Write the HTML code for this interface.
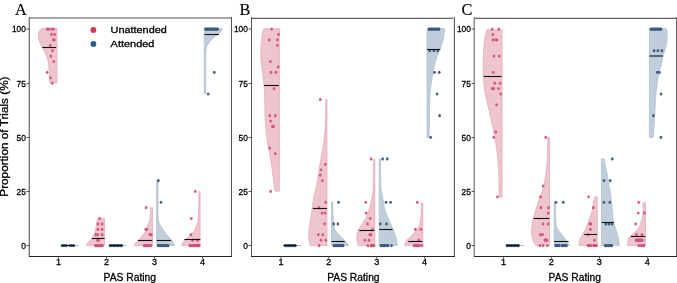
<!DOCTYPE html><html><head><meta charset="utf-8"><style>html,body{margin:0;padding:0;background:#fff;}svg{display:block;}text{font-family:"Liberation Sans",sans-serif;fill:#000;stroke:#000;stroke-width:0.3px;}svg{will-change:transform;}</style></head><body>
<svg width="677" height="283" viewBox="0 0 677 283">
<polygon points="57.0,28.4 41.8,28.4 40.6,29.2 39.7,30.4 39.0,32.0 38.5,34.2 38.4,38.0 39.6,41.8 41.3,45.6 43.4,49.4 45.3,53.2 46.8,57.0 47.8,60.0 48.6,64.0 49.0,68.0 49.2,72.0 49.4,78.0 49.6,83.0 57.0,83.0" fill="#eec4cd" stroke="#e3a9b7" stroke-width="0.7" stroke-linejoin="round"/>
<polygon points="104.6,218.3 98.2,218.3 97.2,220.0 96.9,222.0 96.5,225.0 95.9,228.0 95.1,232.0 93.8,235.0 92.2,238.0 90.5,240.0 88.4,242.0 87.0,244.0 86.4,245.6 104.6,245.6" fill="#eec4cd" stroke="#e3a9b7" stroke-width="0.7" stroke-linejoin="round"/>
<polygon points="152.6,207.6 150.6,207.6 150.4,212.0 150.2,216.0 149.8,220.0 149.3,222.0 147.3,226.0 146.3,229.9 144.7,232.5 142.9,234.9 141.0,237.5 138.9,239.8 137.0,241.5 135.4,242.8 134.1,245.6 152.6,245.6" fill="#eec4cd" stroke="#e3a9b7" stroke-width="0.7" stroke-linejoin="round"/>
<polygon points="156.6,180.6 158.2,180.6 158.1,190.0 158.0,200.0 158.0,212.0 158.1,218.0 158.7,222.0 160.7,226.0 163.1,230.0 167.1,235.0 171.6,240.0 174.0,244.0 174.5,245.6 156.6,245.6" fill="#c0cdda" stroke="#aebfce" stroke-width="0.7" stroke-linejoin="round"/>
<polygon points="200.1,191.5 198.9,191.5 198.9,200.0 198.6,210.0 198.4,215.0 197.9,220.0 196.6,225.0 194.9,230.0 192.5,233.0 190.5,235.0 188.2,237.0 186.0,239.0 184.0,241.0 182.5,243.0 181.5,245.6 200.1,245.6" fill="#eec4cd" stroke="#e3a9b7" stroke-width="0.7" stroke-linejoin="round"/>
<polygon points="204.2,28.4 221.5,28.4 222.8,29.1 220.9,31.0 218.3,34.2 214.5,36.7 210.7,40.5 208.2,43.7 206.6,46.9 205.9,50.7 205.6,60.0 205.6,93.8 204.2,93.8" fill="#c0cdda" stroke="#aebfce" stroke-width="0.7" stroke-linejoin="round"/>
<polygon points="279.4,28.6 263.8,28.6 263.3,29.8 262.6,32.0 262.2,34.8 261.6,40.0 261.1,45.0 260.8,49.7 260.8,55.0 261.0,61.5 261.6,66.0 262.4,72.0 263.2,78.0 264.0,85.0 264.6,94.0 264.8,105.0 265.0,115.0 265.2,120.0 265.8,128.0 266.7,137.0 267.9,145.0 269.6,154.0 271.1,162.0 272.2,170.0 273.5,180.0 274.7,190.0 275.0,191.2 279.4,191.2" fill="#eec4cd" stroke="#e3a9b7" stroke-width="0.7" stroke-linejoin="round"/>
<polygon points="327.0,99.5 325.7,99.5 325.6,110.0 325.4,120.0 325.0,130.0 324.0,140.0 322.5,150.0 320.3,162.0 318.2,175.0 316.3,187.0 314.1,195.0 312.6,205.0 311.2,215.0 310.0,222.0 308.9,230.0 308.6,237.0 309.2,241.0 310.3,245.6 327.0,245.6" fill="#eec4cd" stroke="#e3a9b7" stroke-width="0.7" stroke-linejoin="round"/>
<polygon points="331.5,202.3 332.8,202.3 332.9,210.0 333.1,218.0 333.6,225.0 335.0,230.0 339.0,235.0 344.0,240.0 346.8,243.0 348.5,245.6 331.5,245.6" fill="#c0cdda" stroke="#aebfce" stroke-width="0.7" stroke-linejoin="round"/>
<polygon points="374.8,159.2 373.6,159.2 373.6,170.0 373.5,180.0 373.2,190.0 372.2,196.0 371.0,202.0 369.5,208.0 367.4,215.0 364.5,220.0 361.5,225.0 358.0,230.0 357.0,235.0 356.8,240.0 357.5,243.0 358.3,245.6 374.8,245.6" fill="#eec4cd" stroke="#e3a9b7" stroke-width="0.7" stroke-linejoin="round"/>
<polygon points="379.2,159.2 380.6,159.2 380.6,170.0 380.7,180.0 381.2,190.0 382.3,196.0 383.4,202.0 384.5,208.0 386.9,215.0 389.1,220.0 391.2,225.0 393.3,230.0 395.2,235.0 396.6,240.0 397.2,245.6 379.2,245.6" fill="#c0cdda" stroke="#aebfce" stroke-width="0.7" stroke-linejoin="round"/>
<polygon points="422.8,202.8 421.2,202.8 421.2,210.0 420.8,218.0 419.5,225.0 416.5,230.0 412.4,234.8 409.0,238.0 406.8,240.0 405.2,243.0 404.4,245.6 422.8,245.6" fill="#eec4cd" stroke="#e3a9b7" stroke-width="0.7" stroke-linejoin="round"/>
<polygon points="427.0,28.6 444.0,28.6 444.8,29.3 444.7,31.0 443.9,35.0 443.3,40.0 441.5,45.0 439.8,50.0 437.5,55.0 436.0,60.0 434.6,65.0 433.4,70.0 431.8,80.0 430.4,90.0 429.8,100.0 429.6,120.0 429.3,130.0 429.0,137.4 427.0,137.4" fill="#c0cdda" stroke="#aebfce" stroke-width="0.7" stroke-linejoin="round"/>
<polygon points="502.1,29.7 486.8,29.7 486.3,32.0 485.5,36.0 484.6,40.0 484.0,45.0 483.6,50.0 483.3,60.0 483.2,70.0 483.5,80.0 484.3,88.0 485.6,95.0 486.5,100.0 488.5,108.0 490.1,115.0 492.3,125.0 494.4,135.0 496.0,145.0 497.5,155.0 498.6,170.0 499.1,190.0 499.3,197.1 502.1,197.1" fill="#eec4cd" stroke="#e3a9b7" stroke-width="0.7" stroke-linejoin="round"/>
<polygon points="549.5,137.2 547.8,137.2 547.6,150.0 547.2,160.0 546.8,166.0 546.0,172.0 544.9,180.0 542.6,190.0 538.9,200.0 536.5,207.0 534.2,215.0 532.6,222.0 531.4,230.0 531.8,236.0 532.9,240.0 534.3,243.0 535.8,245.6 549.5,245.6" fill="#eec4cd" stroke="#e3a9b7" stroke-width="0.7" stroke-linejoin="round"/>
<polygon points="554.2,202.1 555.5,202.1 555.5,210.0 555.6,218.0 555.8,222.0 556.1,225.0 557.2,228.0 558.3,230.0 562.2,235.0 566.0,240.0 568.0,243.0 569.5,245.6 554.2,245.6" fill="#c0cdda" stroke="#aebfce" stroke-width="0.7" stroke-linejoin="round"/>
<polygon points="597.3,196.8 594.8,196.8 593.6,202.0 592.3,210.0 590.8,215.0 588.8,220.0 587.3,225.0 585.0,230.0 582.4,234.8 580.8,237.5 579.7,239.8 579.0,242.5 579.0,245.6 597.3,245.6" fill="#eec4cd" stroke="#e3a9b7" stroke-width="0.7" stroke-linejoin="round"/>
<polygon points="601.4,158.8 604.2,158.8 605.2,165.0 607.4,175.0 609.0,185.0 610.8,195.0 611.9,205.0 612.7,215.0 613.5,222.0 614.6,225.0 616.0,230.0 617.6,235.0 618.7,240.0 619.5,245.6 601.4,245.6" fill="#c0cdda" stroke="#aebfce" stroke-width="0.7" stroke-linejoin="round"/>
<polygon points="645.5,202.8 643.0,202.8 643.0,210.0 642.8,215.0 641.8,220.0 640.3,225.0 638.0,229.0 635.0,232.0 631.5,235.0 628.7,238.0 627.8,241.0 627.6,245.6 645.5,245.6" fill="#eec4cd" stroke="#e3a9b7" stroke-width="0.7" stroke-linejoin="round"/>
<polygon points="649.4,28.5 665.8,28.5 666.7,29.3 667.1,31.0 667.2,35.0 667.1,40.0 666.2,45.0 665.0,50.0 663.1,56.0 662.0,61.0 661.0,66.0 659.3,72.0 657.8,80.0 656.4,90.0 655.5,100.0 654.8,115.0 653.8,130.0 653.1,137.4 649.4,137.4" fill="#c0cdda" stroke="#aebfce" stroke-width="0.7" stroke-linejoin="round"/>
<line x1="60.5" y1="245.6" x2="79" y2="245.6" stroke="#a9b6c4" stroke-width="1"/>
<line x1="108.5" y1="245.6" x2="126.6" y2="245.6" stroke="#a9b6c4" stroke-width="1"/>
<line x1="283" y1="245.6" x2="301.5" y2="245.6" stroke="#a9b6c4" stroke-width="1"/>
<line x1="505.5" y1="245.6" x2="524" y2="245.6" stroke="#a9b6c4" stroke-width="1"/>
<ellipse cx="47.2" cy="29.05" rx="1.35" ry="1.6" fill="#d2507a" fill-opacity="0.92"/>
<ellipse cx="48.9" cy="29.05" rx="1.35" ry="1.6" fill="#d2507a" fill-opacity="0.92"/>
<ellipse cx="51.7" cy="29.05" rx="1.35" ry="1.6" fill="#d2507a" fill-opacity="0.92"/>
<ellipse cx="53.5" cy="29.05" rx="1.35" ry="1.6" fill="#d2507a" fill-opacity="0.92"/>
<ellipse cx="51.5" cy="34.46" rx="1.35" ry="1.6" fill="#d2507a" fill-opacity="0.92"/>
<ellipse cx="54.7" cy="34.46" rx="1.35" ry="1.6" fill="#d2507a" fill-opacity="0.92"/>
<ellipse cx="53.3" cy="39.87" rx="1.35" ry="1.6" fill="#d2507a" fill-opacity="0.92"/>
<ellipse cx="54.4" cy="39.87" rx="1.35" ry="1.6" fill="#d2507a" fill-opacity="0.92"/>
<ellipse cx="50.3" cy="45.29" rx="1.35" ry="1.6" fill="#d2507a" fill-opacity="0.92"/>
<ellipse cx="52.4" cy="50.70" rx="1.35" ry="1.6" fill="#d2507a" fill-opacity="0.92"/>
<ellipse cx="50.9" cy="56.11" rx="1.35" ry="1.6" fill="#d2507a" fill-opacity="0.92"/>
<ellipse cx="53.8" cy="61.52" rx="1.35" ry="1.6" fill="#d2507a" fill-opacity="0.92"/>
<ellipse cx="47.1" cy="72.35" rx="1.35" ry="1.6" fill="#d2507a" fill-opacity="0.92"/>
<ellipse cx="50.4" cy="77.76" rx="1.35" ry="1.6" fill="#d2507a" fill-opacity="0.92"/>
<ellipse cx="52.3" cy="83.17" rx="1.35" ry="1.6" fill="#d2507a" fill-opacity="0.92"/>
<ellipse cx="99.5" cy="218.49" rx="1.35" ry="1.6" fill="#d2507a" fill-opacity="0.92"/>
<ellipse cx="97.9" cy="223.90" rx="1.35" ry="1.6" fill="#d2507a" fill-opacity="0.92"/>
<ellipse cx="102.1" cy="223.90" rx="1.35" ry="1.6" fill="#d2507a" fill-opacity="0.92"/>
<ellipse cx="97.9" cy="229.31" rx="1.35" ry="1.6" fill="#d2507a" fill-opacity="0.92"/>
<ellipse cx="102.1" cy="229.31" rx="1.35" ry="1.6" fill="#d2507a" fill-opacity="0.92"/>
<ellipse cx="95.8" cy="234.72" rx="1.35" ry="1.6" fill="#d2507a" fill-opacity="0.92"/>
<ellipse cx="97.6" cy="234.72" rx="1.35" ry="1.6" fill="#d2507a" fill-opacity="0.92"/>
<ellipse cx="102.1" cy="234.72" rx="1.35" ry="1.6" fill="#d2507a" fill-opacity="0.92"/>
<ellipse cx="97.6" cy="240.14" rx="1.35" ry="1.6" fill="#d2507a" fill-opacity="0.92"/>
<ellipse cx="98.6" cy="240.14" rx="1.35" ry="1.6" fill="#d2507a" fill-opacity="0.92"/>
<ellipse cx="95.5" cy="245.55" rx="1.35" ry="1.6" fill="#d2507a" fill-opacity="0.92"/>
<ellipse cx="97.6" cy="245.55" rx="1.35" ry="1.6" fill="#d2507a" fill-opacity="0.92"/>
<ellipse cx="99.6" cy="245.55" rx="1.35" ry="1.6" fill="#d2507a" fill-opacity="0.92"/>
<ellipse cx="101.6" cy="245.55" rx="1.35" ry="1.6" fill="#d2507a" fill-opacity="0.92"/>
<ellipse cx="146.1" cy="207.66" rx="1.35" ry="1.6" fill="#d2507a" fill-opacity="0.92"/>
<ellipse cx="145.8" cy="229.31" rx="1.35" ry="1.6" fill="#d2507a" fill-opacity="0.92"/>
<ellipse cx="146.8" cy="229.31" rx="1.35" ry="1.6" fill="#d2507a" fill-opacity="0.92"/>
<ellipse cx="150" cy="234.72" rx="1.35" ry="1.6" fill="#d2507a" fill-opacity="0.92"/>
<ellipse cx="151.3" cy="234.72" rx="1.35" ry="1.6" fill="#d2507a" fill-opacity="0.92"/>
<ellipse cx="144.5" cy="245.55" rx="1.35" ry="1.6" fill="#d2507a" fill-opacity="0.92"/>
<ellipse cx="146.5" cy="245.55" rx="1.35" ry="1.6" fill="#d2507a" fill-opacity="0.92"/>
<ellipse cx="148.5" cy="245.55" rx="1.35" ry="1.6" fill="#d2507a" fill-opacity="0.92"/>
<ellipse cx="150.5" cy="245.55" rx="1.35" ry="1.6" fill="#d2507a" fill-opacity="0.92"/>
<ellipse cx="195.3" cy="191.42" rx="1.35" ry="1.6" fill="#d2507a" fill-opacity="0.92"/>
<ellipse cx="191.3" cy="218.49" rx="1.35" ry="1.6" fill="#d2507a" fill-opacity="0.92"/>
<ellipse cx="190.9" cy="234.72" rx="1.35" ry="1.6" fill="#d2507a" fill-opacity="0.92"/>
<ellipse cx="192.6" cy="240.14" rx="1.35" ry="1.6" fill="#d2507a" fill-opacity="0.92"/>
<ellipse cx="197.5" cy="240.14" rx="1.35" ry="1.6" fill="#d2507a" fill-opacity="0.92"/>
<ellipse cx="189.8" cy="245.55" rx="1.35" ry="1.6" fill="#d2507a" fill-opacity="0.92"/>
<ellipse cx="192" cy="245.55" rx="1.35" ry="1.6" fill="#d2507a" fill-opacity="0.92"/>
<ellipse cx="194.5" cy="245.55" rx="1.35" ry="1.6" fill="#d2507a" fill-opacity="0.92"/>
<ellipse cx="197" cy="245.55" rx="1.35" ry="1.6" fill="#d2507a" fill-opacity="0.92"/>
<ellipse cx="199.2" cy="245.55" rx="1.35" ry="1.6" fill="#d2507a" fill-opacity="0.92"/>
<ellipse cx="271.7" cy="29.05" rx="1.35" ry="1.6" fill="#d2507a" fill-opacity="0.92"/>
<ellipse cx="278.5" cy="34.46" rx="1.35" ry="1.6" fill="#d2507a" fill-opacity="0.92"/>
<ellipse cx="269.3" cy="39.87" rx="1.35" ry="1.6" fill="#d2507a" fill-opacity="0.92"/>
<ellipse cx="277.4" cy="39.87" rx="1.35" ry="1.6" fill="#d2507a" fill-opacity="0.92"/>
<ellipse cx="277.4" cy="45.29" rx="1.35" ry="1.6" fill="#d2507a" fill-opacity="0.92"/>
<ellipse cx="270.3" cy="61.52" rx="1.35" ry="1.6" fill="#d2507a" fill-opacity="0.92"/>
<ellipse cx="278.2" cy="66.94" rx="1.35" ry="1.6" fill="#d2507a" fill-opacity="0.92"/>
<ellipse cx="271" cy="72.35" rx="1.35" ry="1.6" fill="#d2507a" fill-opacity="0.92"/>
<ellipse cx="276" cy="72.35" rx="1.35" ry="1.6" fill="#d2507a" fill-opacity="0.92"/>
<ellipse cx="273.9" cy="88.59" rx="1.35" ry="1.6" fill="#d2507a" fill-opacity="0.92"/>
<ellipse cx="269.8" cy="115.65" rx="1.35" ry="1.6" fill="#d2507a" fill-opacity="0.92"/>
<ellipse cx="275.4" cy="115.65" rx="1.35" ry="1.6" fill="#d2507a" fill-opacity="0.92"/>
<ellipse cx="270.6" cy="121.06" rx="1.35" ry="1.6" fill="#d2507a" fill-opacity="0.92"/>
<ellipse cx="272.4" cy="126.47" rx="1.35" ry="1.6" fill="#d2507a" fill-opacity="0.92"/>
<ellipse cx="273.6" cy="126.47" rx="1.35" ry="1.6" fill="#d2507a" fill-opacity="0.92"/>
<ellipse cx="269.7" cy="148.12" rx="1.35" ry="1.6" fill="#d2507a" fill-opacity="0.92"/>
<ellipse cx="275.3" cy="153.54" rx="1.35" ry="1.6" fill="#d2507a" fill-opacity="0.92"/>
<ellipse cx="270.6" cy="191.42" rx="1.35" ry="1.6" fill="#d2507a" fill-opacity="0.92"/>
<ellipse cx="320.3" cy="99.41" rx="1.35" ry="1.6" fill="#d2507a" fill-opacity="0.92"/>
<ellipse cx="325.3" cy="164.36" rx="1.35" ry="1.6" fill="#d2507a" fill-opacity="0.92"/>
<ellipse cx="321" cy="169.77" rx="1.35" ry="1.6" fill="#d2507a" fill-opacity="0.92"/>
<ellipse cx="320.3" cy="175.19" rx="1.35" ry="1.6" fill="#d2507a" fill-opacity="0.92"/>
<ellipse cx="322.3" cy="180.60" rx="1.35" ry="1.6" fill="#d2507a" fill-opacity="0.92"/>
<ellipse cx="325.7" cy="202.25" rx="1.35" ry="1.6" fill="#d2507a" fill-opacity="0.92"/>
<ellipse cx="319" cy="207.66" rx="1.35" ry="1.6" fill="#d2507a" fill-opacity="0.92"/>
<ellipse cx="322" cy="213.07" rx="1.35" ry="1.6" fill="#d2507a" fill-opacity="0.92"/>
<ellipse cx="325" cy="213.07" rx="1.35" ry="1.6" fill="#d2507a" fill-opacity="0.92"/>
<ellipse cx="324.5" cy="223.90" rx="1.35" ry="1.6" fill="#d2507a" fill-opacity="0.92"/>
<ellipse cx="318.3" cy="234.72" rx="1.35" ry="1.6" fill="#d2507a" fill-opacity="0.92"/>
<ellipse cx="322.8" cy="234.72" rx="1.35" ry="1.6" fill="#d2507a" fill-opacity="0.92"/>
<ellipse cx="321" cy="240.14" rx="1.35" ry="1.6" fill="#d2507a" fill-opacity="0.92"/>
<ellipse cx="325.8" cy="240.14" rx="1.35" ry="1.6" fill="#d2507a" fill-opacity="0.92"/>
<ellipse cx="319.1" cy="245.55" rx="1.35" ry="1.6" fill="#d2507a" fill-opacity="0.92"/>
<ellipse cx="371.1" cy="158.95" rx="1.35" ry="1.6" fill="#d2507a" fill-opacity="0.92"/>
<ellipse cx="365.8" cy="202.25" rx="1.35" ry="1.6" fill="#d2507a" fill-opacity="0.92"/>
<ellipse cx="366.1" cy="213.07" rx="1.35" ry="1.6" fill="#d2507a" fill-opacity="0.92"/>
<ellipse cx="370.2" cy="218.49" rx="1.35" ry="1.6" fill="#d2507a" fill-opacity="0.92"/>
<ellipse cx="367.5" cy="223.90" rx="1.35" ry="1.6" fill="#d2507a" fill-opacity="0.92"/>
<ellipse cx="372.4" cy="229.31" rx="1.35" ry="1.6" fill="#d2507a" fill-opacity="0.92"/>
<ellipse cx="369.8" cy="234.72" rx="1.35" ry="1.6" fill="#d2507a" fill-opacity="0.92"/>
<ellipse cx="371" cy="234.72" rx="1.35" ry="1.6" fill="#d2507a" fill-opacity="0.92"/>
<ellipse cx="364.9" cy="240.14" rx="1.35" ry="1.6" fill="#d2507a" fill-opacity="0.92"/>
<ellipse cx="369" cy="240.14" rx="1.35" ry="1.6" fill="#d2507a" fill-opacity="0.92"/>
<ellipse cx="367.9" cy="245.55" rx="1.35" ry="1.6" fill="#d2507a" fill-opacity="0.92"/>
<ellipse cx="371" cy="245.55" rx="1.35" ry="1.6" fill="#d2507a" fill-opacity="0.92"/>
<ellipse cx="373.1" cy="245.55" rx="1.35" ry="1.6" fill="#d2507a" fill-opacity="0.92"/>
<ellipse cx="417.3" cy="202.25" rx="1.35" ry="1.6" fill="#d2507a" fill-opacity="0.92"/>
<ellipse cx="415.3" cy="229.31" rx="1.35" ry="1.6" fill="#d2507a" fill-opacity="0.92"/>
<ellipse cx="420.9" cy="229.31" rx="1.35" ry="1.6" fill="#d2507a" fill-opacity="0.92"/>
<ellipse cx="418.8" cy="240.14" rx="1.35" ry="1.6" fill="#d2507a" fill-opacity="0.92"/>
<ellipse cx="414.2" cy="245.55" rx="1.35" ry="1.6" fill="#d2507a" fill-opacity="0.92"/>
<ellipse cx="416.8" cy="245.55" rx="1.35" ry="1.6" fill="#d2507a" fill-opacity="0.92"/>
<ellipse cx="419.4" cy="245.55" rx="1.35" ry="1.6" fill="#d2507a" fill-opacity="0.92"/>
<ellipse cx="422" cy="245.55" rx="1.35" ry="1.6" fill="#d2507a" fill-opacity="0.92"/>
<ellipse cx="492.2" cy="29.05" rx="1.35" ry="1.6" fill="#d2507a" fill-opacity="0.92"/>
<ellipse cx="498.8" cy="29.05" rx="1.35" ry="1.6" fill="#d2507a" fill-opacity="0.92"/>
<ellipse cx="492.9" cy="34.46" rx="1.35" ry="1.6" fill="#d2507a" fill-opacity="0.92"/>
<ellipse cx="492.9" cy="39.87" rx="1.35" ry="1.6" fill="#d2507a" fill-opacity="0.92"/>
<ellipse cx="495.7" cy="39.87" rx="1.35" ry="1.6" fill="#d2507a" fill-opacity="0.92"/>
<ellipse cx="497" cy="39.87" rx="1.35" ry="1.6" fill="#d2507a" fill-opacity="0.92"/>
<ellipse cx="493.9" cy="56.11" rx="1.35" ry="1.6" fill="#d2507a" fill-opacity="0.92"/>
<ellipse cx="499.2" cy="56.11" rx="1.35" ry="1.6" fill="#d2507a" fill-opacity="0.92"/>
<ellipse cx="493.3" cy="72.35" rx="1.35" ry="1.6" fill="#d2507a" fill-opacity="0.92"/>
<ellipse cx="494.8" cy="83.17" rx="1.35" ry="1.6" fill="#d2507a" fill-opacity="0.92"/>
<ellipse cx="500.1" cy="83.17" rx="1.35" ry="1.6" fill="#d2507a" fill-opacity="0.92"/>
<ellipse cx="492.2" cy="88.59" rx="1.35" ry="1.6" fill="#d2507a" fill-opacity="0.92"/>
<ellipse cx="493.7" cy="88.59" rx="1.35" ry="1.6" fill="#d2507a" fill-opacity="0.92"/>
<ellipse cx="498.6" cy="88.59" rx="1.35" ry="1.6" fill="#d2507a" fill-opacity="0.92"/>
<ellipse cx="500.7" cy="94.00" rx="1.35" ry="1.6" fill="#d2507a" fill-opacity="0.92"/>
<ellipse cx="496.5" cy="104.82" rx="1.35" ry="1.6" fill="#d2507a" fill-opacity="0.92"/>
<ellipse cx="495.8" cy="131.89" rx="1.35" ry="1.6" fill="#d2507a" fill-opacity="0.92"/>
<ellipse cx="493.7" cy="137.30" rx="1.35" ry="1.6" fill="#d2507a" fill-opacity="0.92"/>
<ellipse cx="497.5" cy="196.84" rx="1.35" ry="1.6" fill="#d2507a" fill-opacity="0.92"/>
<ellipse cx="545.8" cy="137.30" rx="1.35" ry="1.6" fill="#d2507a" fill-opacity="0.92"/>
<ellipse cx="543.1" cy="186.01" rx="1.35" ry="1.6" fill="#d2507a" fill-opacity="0.92"/>
<ellipse cx="540.5" cy="196.84" rx="1.35" ry="1.6" fill="#d2507a" fill-opacity="0.92"/>
<ellipse cx="540.9" cy="207.66" rx="1.35" ry="1.6" fill="#d2507a" fill-opacity="0.92"/>
<ellipse cx="548.6" cy="207.66" rx="1.35" ry="1.6" fill="#d2507a" fill-opacity="0.92"/>
<ellipse cx="548.1" cy="213.07" rx="1.35" ry="1.6" fill="#d2507a" fill-opacity="0.92"/>
<ellipse cx="543" cy="223.90" rx="1.35" ry="1.6" fill="#d2507a" fill-opacity="0.92"/>
<ellipse cx="548.1" cy="223.90" rx="1.35" ry="1.6" fill="#d2507a" fill-opacity="0.92"/>
<ellipse cx="540.3" cy="234.72" rx="1.35" ry="1.6" fill="#d2507a" fill-opacity="0.92"/>
<ellipse cx="542.5" cy="234.72" rx="1.35" ry="1.6" fill="#d2507a" fill-opacity="0.92"/>
<ellipse cx="545" cy="240.14" rx="1.35" ry="1.6" fill="#d2507a" fill-opacity="0.92"/>
<ellipse cx="547" cy="240.14" rx="1.35" ry="1.6" fill="#d2507a" fill-opacity="0.92"/>
<ellipse cx="540" cy="245.55" rx="1.35" ry="1.6" fill="#d2507a" fill-opacity="0.92"/>
<ellipse cx="543" cy="245.55" rx="1.35" ry="1.6" fill="#d2507a" fill-opacity="0.92"/>
<ellipse cx="547.4" cy="245.55" rx="1.35" ry="1.6" fill="#d2507a" fill-opacity="0.92"/>
<ellipse cx="588.6" cy="196.84" rx="1.35" ry="1.6" fill="#d2507a" fill-opacity="0.92"/>
<ellipse cx="593.3" cy="207.66" rx="1.35" ry="1.6" fill="#d2507a" fill-opacity="0.92"/>
<ellipse cx="589.8" cy="223.90" rx="1.35" ry="1.6" fill="#d2507a" fill-opacity="0.92"/>
<ellipse cx="591" cy="223.90" rx="1.35" ry="1.6" fill="#d2507a" fill-opacity="0.92"/>
<ellipse cx="590.4" cy="229.31" rx="1.35" ry="1.6" fill="#d2507a" fill-opacity="0.92"/>
<ellipse cx="588" cy="234.72" rx="1.35" ry="1.6" fill="#d2507a" fill-opacity="0.92"/>
<ellipse cx="594.5" cy="240.14" rx="1.35" ry="1.6" fill="#d2507a" fill-opacity="0.92"/>
<ellipse cx="588.5" cy="245.55" rx="1.35" ry="1.6" fill="#d2507a" fill-opacity="0.92"/>
<ellipse cx="591" cy="245.55" rx="1.35" ry="1.6" fill="#d2507a" fill-opacity="0.92"/>
<ellipse cx="594" cy="245.55" rx="1.35" ry="1.6" fill="#d2507a" fill-opacity="0.92"/>
<ellipse cx="596.4" cy="245.55" rx="1.35" ry="1.6" fill="#d2507a" fill-opacity="0.92"/>
<ellipse cx="638.8" cy="202.25" rx="1.35" ry="1.6" fill="#d2507a" fill-opacity="0.92"/>
<ellipse cx="638.2" cy="213.07" rx="1.35" ry="1.6" fill="#d2507a" fill-opacity="0.92"/>
<ellipse cx="644.5" cy="213.07" rx="1.35" ry="1.6" fill="#d2507a" fill-opacity="0.92"/>
<ellipse cx="635.6" cy="223.90" rx="1.35" ry="1.6" fill="#d2507a" fill-opacity="0.92"/>
<ellipse cx="636.5" cy="234.72" rx="1.35" ry="1.6" fill="#d2507a" fill-opacity="0.92"/>
<ellipse cx="642" cy="234.72" rx="1.35" ry="1.6" fill="#d2507a" fill-opacity="0.92"/>
<ellipse cx="636.5" cy="240.14" rx="1.35" ry="1.6" fill="#d2507a" fill-opacity="0.92"/>
<ellipse cx="639.3" cy="240.14" rx="1.35" ry="1.6" fill="#d2507a" fill-opacity="0.92"/>
<ellipse cx="642.4" cy="240.14" rx="1.35" ry="1.6" fill="#d2507a" fill-opacity="0.92"/>
<ellipse cx="638.8" cy="245.55" rx="1.35" ry="1.6" fill="#d2507a" fill-opacity="0.92"/>
<ellipse cx="641.3" cy="245.55" rx="1.35" ry="1.6" fill="#d2507a" fill-opacity="0.92"/>
<ellipse cx="643.9" cy="245.55" rx="1.35" ry="1.6" fill="#d2507a" fill-opacity="0.92"/>
<ellipse cx="95.5" cy="245.55" rx="1.35" ry="1.6" fill="#d2507a" fill-opacity="0.92"/>
<ellipse cx="96.9" cy="245.55" rx="1.35" ry="1.6" fill="#d2507a" fill-opacity="0.92"/>
<ellipse cx="98.3" cy="245.55" rx="1.35" ry="1.6" fill="#d2507a" fill-opacity="0.92"/>
<ellipse cx="99.7" cy="245.55" rx="1.35" ry="1.6" fill="#d2507a" fill-opacity="0.92"/>
<ellipse cx="101.1" cy="245.55" rx="1.35" ry="1.6" fill="#d2507a" fill-opacity="0.92"/>
<ellipse cx="102.5" cy="245.55" rx="1.35" ry="1.6" fill="#d2507a" fill-opacity="0.92"/>
<ellipse cx="144.3" cy="245.55" rx="1.35" ry="1.6" fill="#d2507a" fill-opacity="0.92"/>
<ellipse cx="145.925" cy="245.55" rx="1.35" ry="1.6" fill="#d2507a" fill-opacity="0.92"/>
<ellipse cx="147.55" cy="245.55" rx="1.35" ry="1.6" fill="#d2507a" fill-opacity="0.92"/>
<ellipse cx="149.175" cy="245.55" rx="1.35" ry="1.6" fill="#d2507a" fill-opacity="0.92"/>
<ellipse cx="150.8" cy="245.55" rx="1.35" ry="1.6" fill="#d2507a" fill-opacity="0.92"/>
<ellipse cx="190.3" cy="245.55" rx="1.35" ry="1.6" fill="#d2507a" fill-opacity="0.92"/>
<ellipse cx="191.70000000000002" cy="245.55" rx="1.35" ry="1.6" fill="#d2507a" fill-opacity="0.92"/>
<ellipse cx="193.1" cy="245.55" rx="1.35" ry="1.6" fill="#d2507a" fill-opacity="0.92"/>
<ellipse cx="194.5" cy="245.55" rx="1.35" ry="1.6" fill="#d2507a" fill-opacity="0.92"/>
<ellipse cx="195.9" cy="245.55" rx="1.35" ry="1.6" fill="#d2507a" fill-opacity="0.92"/>
<ellipse cx="197.29999999999998" cy="245.55" rx="1.35" ry="1.6" fill="#d2507a" fill-opacity="0.92"/>
<ellipse cx="198.7" cy="245.55" rx="1.35" ry="1.6" fill="#d2507a" fill-opacity="0.92"/>
<ellipse cx="371.6" cy="245.55" rx="1.35" ry="1.6" fill="#d2507a" fill-opacity="0.92"/>
<ellipse cx="372.8" cy="245.55" rx="1.35" ry="1.6" fill="#d2507a" fill-opacity="0.92"/>
<ellipse cx="374.0" cy="245.55" rx="1.35" ry="1.6" fill="#d2507a" fill-opacity="0.92"/>
<ellipse cx="414.2" cy="245.55" rx="1.35" ry="1.6" fill="#d2507a" fill-opacity="0.92"/>
<ellipse cx="415.76666666666665" cy="245.55" rx="1.35" ry="1.6" fill="#d2507a" fill-opacity="0.92"/>
<ellipse cx="417.3333333333333" cy="245.55" rx="1.35" ry="1.6" fill="#d2507a" fill-opacity="0.92"/>
<ellipse cx="418.9" cy="245.55" rx="1.35" ry="1.6" fill="#d2507a" fill-opacity="0.92"/>
<ellipse cx="545.4" cy="240.14" rx="1.35" ry="1.6" fill="#d2507a" fill-opacity="0.92"/>
<ellipse cx="546.5" cy="240.14" rx="1.35" ry="1.6" fill="#d2507a" fill-opacity="0.92"/>
<ellipse cx="587.9" cy="245.55" rx="1.35" ry="1.6" fill="#d2507a" fill-opacity="0.92"/>
<ellipse cx="589.9" cy="245.55" rx="1.35" ry="1.6" fill="#d2507a" fill-opacity="0.92"/>
<ellipse cx="593.6" cy="245.55" rx="1.35" ry="1.6" fill="#d2507a" fill-opacity="0.92"/>
<ellipse cx="594.85" cy="245.55" rx="1.35" ry="1.6" fill="#d2507a" fill-opacity="0.92"/>
<ellipse cx="596.1" cy="245.55" rx="1.35" ry="1.6" fill="#d2507a" fill-opacity="0.92"/>
<ellipse cx="641.5" cy="245.55" rx="1.35" ry="1.6" fill="#d2507a" fill-opacity="0.92"/>
<ellipse cx="643.5" cy="245.55" rx="1.35" ry="1.6" fill="#d2507a" fill-opacity="0.92"/>
<ellipse cx="636.2" cy="240.14" rx="1.35" ry="1.6" fill="#d2507a" fill-opacity="0.92"/>
<ellipse cx="637.575" cy="240.14" rx="1.35" ry="1.6" fill="#d2507a" fill-opacity="0.92"/>
<ellipse cx="638.95" cy="240.14" rx="1.35" ry="1.6" fill="#d2507a" fill-opacity="0.92"/>
<ellipse cx="640.325" cy="240.14" rx="1.35" ry="1.6" fill="#d2507a" fill-opacity="0.92"/>
<ellipse cx="641.7" cy="240.14" rx="1.35" ry="1.6" fill="#d2507a" fill-opacity="0.92"/>
<ellipse cx="110.6" cy="245.55" rx="1.35" ry="1.6" fill="#3b5a7c" fill-opacity="0.95"/>
<ellipse cx="113.9" cy="245.55" rx="1.35" ry="1.6" fill="#3b5a7c" fill-opacity="0.95"/>
<ellipse cx="117.4" cy="245.55" rx="1.35" ry="1.6" fill="#3b5a7c" fill-opacity="0.95"/>
<ellipse cx="121" cy="245.55" rx="1.35" ry="1.6" fill="#3b5a7c" fill-opacity="0.95"/>
<ellipse cx="158.4" cy="180.60" rx="1.35" ry="1.6" fill="#3b5a7c" fill-opacity="0.95"/>
<ellipse cx="161" cy="202.25" rx="1.35" ry="1.6" fill="#3b5a7c" fill-opacity="0.95"/>
<ellipse cx="158.5" cy="245.55" rx="1.35" ry="1.6" fill="#3b5a7c" fill-opacity="0.95"/>
<ellipse cx="161.5" cy="245.55" rx="1.35" ry="1.6" fill="#3b5a7c" fill-opacity="0.95"/>
<ellipse cx="164.5" cy="245.55" rx="1.35" ry="1.6" fill="#3b5a7c" fill-opacity="0.95"/>
<ellipse cx="167.5" cy="245.55" rx="1.35" ry="1.6" fill="#3b5a7c" fill-opacity="0.95"/>
<ellipse cx="205.6" cy="29.05" rx="1.35" ry="1.6" fill="#3b5a7c" fill-opacity="0.95"/>
<ellipse cx="207.5" cy="29.05" rx="1.35" ry="1.6" fill="#3b5a7c" fill-opacity="0.95"/>
<ellipse cx="209.5" cy="29.05" rx="1.35" ry="1.6" fill="#3b5a7c" fill-opacity="0.95"/>
<ellipse cx="211.5" cy="29.05" rx="1.35" ry="1.6" fill="#3b5a7c" fill-opacity="0.95"/>
<ellipse cx="213.5" cy="29.05" rx="1.35" ry="1.6" fill="#3b5a7c" fill-opacity="0.95"/>
<ellipse cx="215.5" cy="29.05" rx="1.35" ry="1.6" fill="#3b5a7c" fill-opacity="0.95"/>
<ellipse cx="217.4" cy="29.05" rx="1.35" ry="1.6" fill="#3b5a7c" fill-opacity="0.95"/>
<ellipse cx="214.3" cy="72.35" rx="1.35" ry="1.6" fill="#3b5a7c" fill-opacity="0.95"/>
<ellipse cx="208.2" cy="94.00" rx="1.35" ry="1.6" fill="#3b5a7c" fill-opacity="0.95"/>
<ellipse cx="285.6" cy="245.55" rx="1.35" ry="1.6" fill="#3b5a7c" fill-opacity="0.95"/>
<ellipse cx="288.9" cy="245.55" rx="1.35" ry="1.6" fill="#3b5a7c" fill-opacity="0.95"/>
<ellipse cx="292.2" cy="245.55" rx="1.35" ry="1.6" fill="#3b5a7c" fill-opacity="0.95"/>
<ellipse cx="295.1" cy="245.55" rx="1.35" ry="1.6" fill="#3b5a7c" fill-opacity="0.95"/>
<ellipse cx="338.6" cy="202.25" rx="1.35" ry="1.6" fill="#3b5a7c" fill-opacity="0.95"/>
<ellipse cx="333.7" cy="223.90" rx="1.35" ry="1.6" fill="#3b5a7c" fill-opacity="0.95"/>
<ellipse cx="337.9" cy="223.90" rx="1.35" ry="1.6" fill="#3b5a7c" fill-opacity="0.95"/>
<ellipse cx="334" cy="245.55" rx="1.35" ry="1.6" fill="#3b5a7c" fill-opacity="0.95"/>
<ellipse cx="337" cy="245.55" rx="1.35" ry="1.6" fill="#3b5a7c" fill-opacity="0.95"/>
<ellipse cx="340" cy="245.55" rx="1.35" ry="1.6" fill="#3b5a7c" fill-opacity="0.95"/>
<ellipse cx="343" cy="245.55" rx="1.35" ry="1.6" fill="#3b5a7c" fill-opacity="0.95"/>
<ellipse cx="382.6" cy="158.95" rx="1.35" ry="1.6" fill="#3b5a7c" fill-opacity="0.95"/>
<ellipse cx="387.2" cy="158.95" rx="1.35" ry="1.6" fill="#3b5a7c" fill-opacity="0.95"/>
<ellipse cx="386" cy="202.25" rx="1.35" ry="1.6" fill="#3b5a7c" fill-opacity="0.95"/>
<ellipse cx="390.6" cy="202.25" rx="1.35" ry="1.6" fill="#3b5a7c" fill-opacity="0.95"/>
<ellipse cx="380.3" cy="223.90" rx="1.35" ry="1.6" fill="#3b5a7c" fill-opacity="0.95"/>
<ellipse cx="386.5" cy="223.90" rx="1.35" ry="1.6" fill="#3b5a7c" fill-opacity="0.95"/>
<ellipse cx="381" cy="245.55" rx="1.35" ry="1.6" fill="#3b5a7c" fill-opacity="0.95"/>
<ellipse cx="384.5" cy="245.55" rx="1.35" ry="1.6" fill="#3b5a7c" fill-opacity="0.95"/>
<ellipse cx="388" cy="245.55" rx="1.35" ry="1.6" fill="#3b5a7c" fill-opacity="0.95"/>
<ellipse cx="391.5" cy="245.55" rx="1.35" ry="1.6" fill="#3b5a7c" fill-opacity="0.95"/>
<ellipse cx="429" cy="29.05" rx="1.35" ry="1.6" fill="#3b5a7c" fill-opacity="0.95"/>
<ellipse cx="431.3" cy="29.05" rx="1.35" ry="1.6" fill="#3b5a7c" fill-opacity="0.95"/>
<ellipse cx="433.6" cy="29.05" rx="1.35" ry="1.6" fill="#3b5a7c" fill-opacity="0.95"/>
<ellipse cx="436" cy="29.05" rx="1.35" ry="1.6" fill="#3b5a7c" fill-opacity="0.95"/>
<ellipse cx="438.6" cy="29.05" rx="1.35" ry="1.6" fill="#3b5a7c" fill-opacity="0.95"/>
<ellipse cx="429.7" cy="50.70" rx="1.35" ry="1.6" fill="#3b5a7c" fill-opacity="0.95"/>
<ellipse cx="433.9" cy="50.70" rx="1.35" ry="1.6" fill="#3b5a7c" fill-opacity="0.95"/>
<ellipse cx="437.7" cy="50.70" rx="1.35" ry="1.6" fill="#3b5a7c" fill-opacity="0.95"/>
<ellipse cx="434.5" cy="72.35" rx="1.35" ry="1.6" fill="#3b5a7c" fill-opacity="0.95"/>
<ellipse cx="439.2" cy="72.35" rx="1.35" ry="1.6" fill="#3b5a7c" fill-opacity="0.95"/>
<ellipse cx="437.1" cy="94.00" rx="1.35" ry="1.6" fill="#3b5a7c" fill-opacity="0.95"/>
<ellipse cx="439.6" cy="115.65" rx="1.35" ry="1.6" fill="#3b5a7c" fill-opacity="0.95"/>
<ellipse cx="430.7" cy="137.30" rx="1.35" ry="1.6" fill="#3b5a7c" fill-opacity="0.95"/>
<ellipse cx="507.6" cy="245.55" rx="1.35" ry="1.6" fill="#3b5a7c" fill-opacity="0.95"/>
<ellipse cx="511" cy="245.55" rx="1.35" ry="1.6" fill="#3b5a7c" fill-opacity="0.95"/>
<ellipse cx="514.5" cy="245.55" rx="1.35" ry="1.6" fill="#3b5a7c" fill-opacity="0.95"/>
<ellipse cx="518" cy="245.55" rx="1.35" ry="1.6" fill="#3b5a7c" fill-opacity="0.95"/>
<ellipse cx="556" cy="202.25" rx="1.35" ry="1.6" fill="#3b5a7c" fill-opacity="0.95"/>
<ellipse cx="563.3" cy="202.25" rx="1.35" ry="1.6" fill="#3b5a7c" fill-opacity="0.95"/>
<ellipse cx="556.5" cy="245.55" rx="1.35" ry="1.6" fill="#3b5a7c" fill-opacity="0.95"/>
<ellipse cx="559.5" cy="245.55" rx="1.35" ry="1.6" fill="#3b5a7c" fill-opacity="0.95"/>
<ellipse cx="562.5" cy="245.55" rx="1.35" ry="1.6" fill="#3b5a7c" fill-opacity="0.95"/>
<ellipse cx="565.5" cy="245.55" rx="1.35" ry="1.6" fill="#3b5a7c" fill-opacity="0.95"/>
<ellipse cx="612.3" cy="158.95" rx="1.35" ry="1.6" fill="#3b5a7c" fill-opacity="0.95"/>
<ellipse cx="604" cy="180.60" rx="1.35" ry="1.6" fill="#3b5a7c" fill-opacity="0.95"/>
<ellipse cx="610.2" cy="180.60" rx="1.35" ry="1.6" fill="#3b5a7c" fill-opacity="0.95"/>
<ellipse cx="603.9" cy="202.25" rx="1.35" ry="1.6" fill="#3b5a7c" fill-opacity="0.95"/>
<ellipse cx="609.8" cy="202.25" rx="1.35" ry="1.6" fill="#3b5a7c" fill-opacity="0.95"/>
<ellipse cx="605.9" cy="223.90" rx="1.35" ry="1.6" fill="#3b5a7c" fill-opacity="0.95"/>
<ellipse cx="609" cy="223.90" rx="1.35" ry="1.6" fill="#3b5a7c" fill-opacity="0.95"/>
<ellipse cx="612" cy="223.90" rx="1.35" ry="1.6" fill="#3b5a7c" fill-opacity="0.95"/>
<ellipse cx="605.5" cy="245.55" rx="1.35" ry="1.6" fill="#3b5a7c" fill-opacity="0.95"/>
<ellipse cx="608.5" cy="245.55" rx="1.35" ry="1.6" fill="#3b5a7c" fill-opacity="0.95"/>
<ellipse cx="611.5" cy="245.55" rx="1.35" ry="1.6" fill="#3b5a7c" fill-opacity="0.95"/>
<ellipse cx="650.8" cy="29.05" rx="1.35" ry="1.6" fill="#3b5a7c" fill-opacity="0.95"/>
<ellipse cx="653.3" cy="29.05" rx="1.35" ry="1.6" fill="#3b5a7c" fill-opacity="0.95"/>
<ellipse cx="655.8" cy="29.05" rx="1.35" ry="1.6" fill="#3b5a7c" fill-opacity="0.95"/>
<ellipse cx="658.3" cy="29.05" rx="1.35" ry="1.6" fill="#3b5a7c" fill-opacity="0.95"/>
<ellipse cx="661" cy="29.05" rx="1.35" ry="1.6" fill="#3b5a7c" fill-opacity="0.95"/>
<ellipse cx="654.1" cy="50.70" rx="1.35" ry="1.6" fill="#3b5a7c" fill-opacity="0.95"/>
<ellipse cx="657.9" cy="50.70" rx="1.35" ry="1.6" fill="#3b5a7c" fill-opacity="0.95"/>
<ellipse cx="661.9" cy="50.70" rx="1.35" ry="1.6" fill="#3b5a7c" fill-opacity="0.95"/>
<ellipse cx="657.3" cy="72.35" rx="1.35" ry="1.6" fill="#3b5a7c" fill-opacity="0.95"/>
<ellipse cx="659.4" cy="72.35" rx="1.35" ry="1.6" fill="#3b5a7c" fill-opacity="0.95"/>
<ellipse cx="661" cy="94.00" rx="1.35" ry="1.6" fill="#3b5a7c" fill-opacity="0.95"/>
<ellipse cx="653.4" cy="115.65" rx="1.35" ry="1.6" fill="#3b5a7c" fill-opacity="0.95"/>
<ellipse cx="660.9" cy="137.30" rx="1.35" ry="1.6" fill="#3b5a7c" fill-opacity="0.95"/>
<ellipse cx="62.2" cy="245.55" rx="1.35" ry="1.6" fill="#3b5a7c" fill-opacity="0.95"/>
<ellipse cx="63.6" cy="245.55" rx="1.35" ry="1.6" fill="#3b5a7c" fill-opacity="0.95"/>
<ellipse cx="65.0" cy="245.55" rx="1.35" ry="1.6" fill="#3b5a7c" fill-opacity="0.95"/>
<ellipse cx="66.4" cy="245.55" rx="1.35" ry="1.6" fill="#3b5a7c" fill-opacity="0.95"/>
<ellipse cx="70.0" cy="245.55" rx="1.35" ry="1.6" fill="#3b5a7c" fill-opacity="0.95"/>
<ellipse cx="71.8" cy="245.55" rx="1.35" ry="1.6" fill="#3b5a7c" fill-opacity="0.95"/>
<ellipse cx="73.6" cy="245.55" rx="1.35" ry="1.6" fill="#3b5a7c" fill-opacity="0.95"/>
<ellipse cx="110.2" cy="245.55" rx="1.35" ry="1.6" fill="#3b5a7c" fill-opacity="0.95"/>
<ellipse cx="111.65" cy="245.55" rx="1.35" ry="1.6" fill="#3b5a7c" fill-opacity="0.95"/>
<ellipse cx="113.1" cy="245.55" rx="1.35" ry="1.6" fill="#3b5a7c" fill-opacity="0.95"/>
<ellipse cx="114.55" cy="245.55" rx="1.35" ry="1.6" fill="#3b5a7c" fill-opacity="0.95"/>
<ellipse cx="116.0" cy="245.55" rx="1.35" ry="1.6" fill="#3b5a7c" fill-opacity="0.95"/>
<ellipse cx="117.45" cy="245.55" rx="1.35" ry="1.6" fill="#3b5a7c" fill-opacity="0.95"/>
<ellipse cx="118.9" cy="245.55" rx="1.35" ry="1.6" fill="#3b5a7c" fill-opacity="0.95"/>
<ellipse cx="120.35" cy="245.55" rx="1.35" ry="1.6" fill="#3b5a7c" fill-opacity="0.95"/>
<ellipse cx="121.8" cy="245.55" rx="1.35" ry="1.6" fill="#3b5a7c" fill-opacity="0.95"/>
<ellipse cx="158.4" cy="245.55" rx="1.35" ry="1.6" fill="#3b5a7c" fill-opacity="0.95"/>
<ellipse cx="160.01666666666668" cy="245.55" rx="1.35" ry="1.6" fill="#3b5a7c" fill-opacity="0.95"/>
<ellipse cx="161.63333333333333" cy="245.55" rx="1.35" ry="1.6" fill="#3b5a7c" fill-opacity="0.95"/>
<ellipse cx="163.25" cy="245.55" rx="1.35" ry="1.6" fill="#3b5a7c" fill-opacity="0.95"/>
<ellipse cx="164.86666666666667" cy="245.55" rx="1.35" ry="1.6" fill="#3b5a7c" fill-opacity="0.95"/>
<ellipse cx="166.48333333333332" cy="245.55" rx="1.35" ry="1.6" fill="#3b5a7c" fill-opacity="0.95"/>
<ellipse cx="168.1" cy="245.55" rx="1.35" ry="1.6" fill="#3b5a7c" fill-opacity="0.95"/>
<ellipse cx="206.0" cy="29.05" rx="1.35" ry="1.6" fill="#3b5a7c" fill-opacity="0.95"/>
<ellipse cx="207.4125" cy="29.05" rx="1.35" ry="1.6" fill="#3b5a7c" fill-opacity="0.95"/>
<ellipse cx="208.825" cy="29.05" rx="1.35" ry="1.6" fill="#3b5a7c" fill-opacity="0.95"/>
<ellipse cx="210.2375" cy="29.05" rx="1.35" ry="1.6" fill="#3b5a7c" fill-opacity="0.95"/>
<ellipse cx="211.65" cy="29.05" rx="1.35" ry="1.6" fill="#3b5a7c" fill-opacity="0.95"/>
<ellipse cx="213.0625" cy="29.05" rx="1.35" ry="1.6" fill="#3b5a7c" fill-opacity="0.95"/>
<ellipse cx="214.47500000000002" cy="29.05" rx="1.35" ry="1.6" fill="#3b5a7c" fill-opacity="0.95"/>
<ellipse cx="215.88750000000002" cy="29.05" rx="1.35" ry="1.6" fill="#3b5a7c" fill-opacity="0.95"/>
<ellipse cx="217.3" cy="29.05" rx="1.35" ry="1.6" fill="#3b5a7c" fill-opacity="0.95"/>
<ellipse cx="285.1" cy="245.55" rx="1.35" ry="1.6" fill="#3b5a7c" fill-opacity="0.95"/>
<ellipse cx="286.54285714285714" cy="245.55" rx="1.35" ry="1.6" fill="#3b5a7c" fill-opacity="0.95"/>
<ellipse cx="287.9857142857143" cy="245.55" rx="1.35" ry="1.6" fill="#3b5a7c" fill-opacity="0.95"/>
<ellipse cx="289.42857142857144" cy="245.55" rx="1.35" ry="1.6" fill="#3b5a7c" fill-opacity="0.95"/>
<ellipse cx="290.87142857142857" cy="245.55" rx="1.35" ry="1.6" fill="#3b5a7c" fill-opacity="0.95"/>
<ellipse cx="292.3142857142857" cy="245.55" rx="1.35" ry="1.6" fill="#3b5a7c" fill-opacity="0.95"/>
<ellipse cx="293.75714285714287" cy="245.55" rx="1.35" ry="1.6" fill="#3b5a7c" fill-opacity="0.95"/>
<ellipse cx="295.2" cy="245.55" rx="1.35" ry="1.6" fill="#3b5a7c" fill-opacity="0.95"/>
<ellipse cx="334.2" cy="245.55" rx="1.35" ry="1.6" fill="#3b5a7c" fill-opacity="0.95"/>
<ellipse cx="335.6333333333333" cy="245.55" rx="1.35" ry="1.6" fill="#3b5a7c" fill-opacity="0.95"/>
<ellipse cx="337.06666666666666" cy="245.55" rx="1.35" ry="1.6" fill="#3b5a7c" fill-opacity="0.95"/>
<ellipse cx="338.5" cy="245.55" rx="1.35" ry="1.6" fill="#3b5a7c" fill-opacity="0.95"/>
<ellipse cx="339.93333333333334" cy="245.55" rx="1.35" ry="1.6" fill="#3b5a7c" fill-opacity="0.95"/>
<ellipse cx="341.3666666666667" cy="245.55" rx="1.35" ry="1.6" fill="#3b5a7c" fill-opacity="0.95"/>
<ellipse cx="342.8" cy="245.55" rx="1.35" ry="1.6" fill="#3b5a7c" fill-opacity="0.95"/>
<ellipse cx="381.0" cy="245.55" rx="1.35" ry="1.6" fill="#3b5a7c" fill-opacity="0.95"/>
<ellipse cx="382.36" cy="245.55" rx="1.35" ry="1.6" fill="#3b5a7c" fill-opacity="0.95"/>
<ellipse cx="383.72" cy="245.55" rx="1.35" ry="1.6" fill="#3b5a7c" fill-opacity="0.95"/>
<ellipse cx="385.08" cy="245.55" rx="1.35" ry="1.6" fill="#3b5a7c" fill-opacity="0.95"/>
<ellipse cx="386.44" cy="245.55" rx="1.35" ry="1.6" fill="#3b5a7c" fill-opacity="0.95"/>
<ellipse cx="387.8" cy="245.55" rx="1.35" ry="1.6" fill="#3b5a7c" fill-opacity="0.95"/>
<ellipse cx="429.4" cy="29.05" rx="1.35" ry="1.6" fill="#3b5a7c" fill-opacity="0.95"/>
<ellipse cx="431.0" cy="29.05" rx="1.35" ry="1.6" fill="#3b5a7c" fill-opacity="0.95"/>
<ellipse cx="432.59999999999997" cy="29.05" rx="1.35" ry="1.6" fill="#3b5a7c" fill-opacity="0.95"/>
<ellipse cx="434.2" cy="29.05" rx="1.35" ry="1.6" fill="#3b5a7c" fill-opacity="0.95"/>
<ellipse cx="435.8" cy="29.05" rx="1.35" ry="1.6" fill="#3b5a7c" fill-opacity="0.95"/>
<ellipse cx="437.4" cy="29.05" rx="1.35" ry="1.6" fill="#3b5a7c" fill-opacity="0.95"/>
<ellipse cx="439.0" cy="29.05" rx="1.35" ry="1.6" fill="#3b5a7c" fill-opacity="0.95"/>
<ellipse cx="507.2" cy="245.55" rx="1.35" ry="1.6" fill="#3b5a7c" fill-opacity="0.95"/>
<ellipse cx="508.6125" cy="245.55" rx="1.35" ry="1.6" fill="#3b5a7c" fill-opacity="0.95"/>
<ellipse cx="510.025" cy="245.55" rx="1.35" ry="1.6" fill="#3b5a7c" fill-opacity="0.95"/>
<ellipse cx="511.4375" cy="245.55" rx="1.35" ry="1.6" fill="#3b5a7c" fill-opacity="0.95"/>
<ellipse cx="512.85" cy="245.55" rx="1.35" ry="1.6" fill="#3b5a7c" fill-opacity="0.95"/>
<ellipse cx="514.2625" cy="245.55" rx="1.35" ry="1.6" fill="#3b5a7c" fill-opacity="0.95"/>
<ellipse cx="515.675" cy="245.55" rx="1.35" ry="1.6" fill="#3b5a7c" fill-opacity="0.95"/>
<ellipse cx="517.0875" cy="245.55" rx="1.35" ry="1.6" fill="#3b5a7c" fill-opacity="0.95"/>
<ellipse cx="518.5" cy="245.55" rx="1.35" ry="1.6" fill="#3b5a7c" fill-opacity="0.95"/>
<ellipse cx="555.6" cy="245.55" rx="1.35" ry="1.6" fill="#3b5a7c" fill-opacity="0.95"/>
<ellipse cx="557.05" cy="245.55" rx="1.35" ry="1.6" fill="#3b5a7c" fill-opacity="0.95"/>
<ellipse cx="558.5" cy="245.55" rx="1.35" ry="1.6" fill="#3b5a7c" fill-opacity="0.95"/>
<ellipse cx="562.3" cy="245.55" rx="1.35" ry="1.6" fill="#3b5a7c" fill-opacity="0.95"/>
<ellipse cx="563.6999999999999" cy="245.55" rx="1.35" ry="1.6" fill="#3b5a7c" fill-opacity="0.95"/>
<ellipse cx="565.1" cy="245.55" rx="1.35" ry="1.6" fill="#3b5a7c" fill-opacity="0.95"/>
<ellipse cx="566.5" cy="245.55" rx="1.35" ry="1.6" fill="#3b5a7c" fill-opacity="0.95"/>
<ellipse cx="605.2" cy="245.55" rx="1.35" ry="1.6" fill="#3b5a7c" fill-opacity="0.95"/>
<ellipse cx="606.8000000000001" cy="245.55" rx="1.35" ry="1.6" fill="#3b5a7c" fill-opacity="0.95"/>
<ellipse cx="608.4000000000001" cy="245.55" rx="1.35" ry="1.6" fill="#3b5a7c" fill-opacity="0.95"/>
<ellipse cx="610.0" cy="245.55" rx="1.35" ry="1.6" fill="#3b5a7c" fill-opacity="0.95"/>
<ellipse cx="611.6" cy="245.55" rx="1.35" ry="1.6" fill="#3b5a7c" fill-opacity="0.95"/>
<ellipse cx="651.5" cy="29.05" rx="1.35" ry="1.6" fill="#3b5a7c" fill-opacity="0.95"/>
<ellipse cx="652.9666666666667" cy="29.05" rx="1.35" ry="1.6" fill="#3b5a7c" fill-opacity="0.95"/>
<ellipse cx="654.4333333333333" cy="29.05" rx="1.35" ry="1.6" fill="#3b5a7c" fill-opacity="0.95"/>
<ellipse cx="655.9" cy="29.05" rx="1.35" ry="1.6" fill="#3b5a7c" fill-opacity="0.95"/>
<ellipse cx="657.3666666666667" cy="29.05" rx="1.35" ry="1.6" fill="#3b5a7c" fill-opacity="0.95"/>
<ellipse cx="658.8333333333333" cy="29.05" rx="1.35" ry="1.6" fill="#3b5a7c" fill-opacity="0.95"/>
<ellipse cx="660.3" cy="29.05" rx="1.35" ry="1.6" fill="#3b5a7c" fill-opacity="0.95"/>
<line x1="42.3" y1="47.5" x2="56.2" y2="47.5" stroke="#111" stroke-width="1.1"/>
<line x1="61" y1="245.5" x2="75" y2="245.5" stroke="#111" stroke-width="1.1"/>
<line x1="91.9" y1="238.5" x2="104.6" y2="238.5" stroke="#111" stroke-width="1.1"/>
<line x1="109" y1="245.5" x2="122.5" y2="245.5" stroke="#111" stroke-width="1.1"/>
<line x1="137.9" y1="240.5" x2="152.3" y2="240.5" stroke="#111" stroke-width="1.1"/>
<line x1="156.7" y1="240.5" x2="171.1" y2="240.5" stroke="#111" stroke-width="1.1"/>
<line x1="184.4" y1="239.5" x2="200.3" y2="239.5" stroke="#111" stroke-width="1.1"/>
<line x1="204.4" y1="34.5" x2="219" y2="34.5" stroke="#111" stroke-width="1.1"/>
<line x1="264" y1="85.5" x2="279" y2="85.5" stroke="#111" stroke-width="1.1"/>
<line x1="283.5" y1="245.5" x2="296.5" y2="245.5" stroke="#111" stroke-width="1.1"/>
<line x1="312.9" y1="208.5" x2="327" y2="208.5" stroke="#111" stroke-width="1.1"/>
<line x1="331.5" y1="241.5" x2="344.7" y2="241.5" stroke="#111" stroke-width="1.1"/>
<line x1="359.3" y1="230.5" x2="374.4" y2="230.5" stroke="#111" stroke-width="1.1"/>
<line x1="379.2" y1="229.5" x2="392.6" y2="229.5" stroke="#111" stroke-width="1.1"/>
<line x1="408.2" y1="241.5" x2="422.4" y2="241.5" stroke="#111" stroke-width="1.1"/>
<line x1="427" y1="49.5" x2="440.3" y2="49.5" stroke="#111" stroke-width="1.1"/>
<line x1="483.6" y1="76.5" x2="501.5" y2="76.5" stroke="#111" stroke-width="1.1"/>
<line x1="506" y1="245.5" x2="519.5" y2="245.5" stroke="#111" stroke-width="1.1"/>
<line x1="533.6" y1="218.5" x2="549.2" y2="218.5" stroke="#111" stroke-width="1.1"/>
<line x1="554.1" y1="241.5" x2="568.5" y2="241.5" stroke="#111" stroke-width="1.1"/>
<line x1="584.2" y1="234.5" x2="597" y2="234.5" stroke="#111" stroke-width="1.1"/>
<line x1="601.8" y1="222.5" x2="613.9" y2="222.5" stroke="#111" stroke-width="1.1"/>
<line x1="630.8" y1="236.5" x2="645.2" y2="236.5" stroke="#111" stroke-width="1.1"/>
<line x1="649.4" y1="56.0" x2="662.8" y2="56.0" stroke="#111" stroke-width="1.1"/>
<rect x="30" y="17" width="201" height="2" fill="#a6a6a6"/>
<rect x="29" y="17" width="1" height="240" fill="#7a7a7a"/>
<rect x="28" y="17" width="1" height="240" fill="#cbcbcb"/>
<rect x="231" y="17" width="1" height="240" fill="#555555"/>
<rect x="252" y="17" width="202" height="1" fill="#d2d2d2"/>
<rect x="252" y="18" width="202" height="1" fill="#666666"/>
<rect x="251" y="17" width="1" height="240" fill="#555555"/>
<rect x="454" y="17" width="1" height="240" fill="#5f5f5f"/>
<rect x="453" y="17" width="1" height="240" fill="#e6e6e6"/>
<rect x="475" y="17" width="201" height="1" fill="#d2d2d2"/>
<rect x="475" y="18" width="201" height="1" fill="#666666"/>
<rect x="474" y="17" width="1" height="240" fill="#8e8e8e"/>
<rect x="473" y="17" width="1" height="240" fill="#cbcbcb"/>
<rect x="676" y="17" width="1" height="240" fill="#666666"/>
<line x1="29.0" y1="256.5" x2="232.0" y2="256.5" stroke="#262626" stroke-width="1"/>
<line x1="26.5" y1="245.5" x2="29.5" y2="245.5" stroke="#444" stroke-width="0.9"/>
<text transform="translate(25.9,248.8) scale(0.92,1)" font-size="9.1" text-anchor="end">0</text>
<line x1="26.5" y1="191.5" x2="29.5" y2="191.5" stroke="#444" stroke-width="0.9"/>
<text transform="translate(25.9,194.7) scale(0.92,1)" font-size="9.1" text-anchor="end">25</text>
<line x1="26.5" y1="137.5" x2="29.5" y2="137.5" stroke="#444" stroke-width="0.9"/>
<text transform="translate(25.9,140.6) scale(0.92,1)" font-size="9.1" text-anchor="end">50</text>
<line x1="26.5" y1="83.5" x2="29.5" y2="83.5" stroke="#444" stroke-width="0.9"/>
<text transform="translate(25.9,86.5) scale(0.92,1)" font-size="9.1" text-anchor="end">75</text>
<line x1="26.5" y1="29.0" x2="29.5" y2="29.0" stroke="#444" stroke-width="0.9"/>
<text transform="translate(25.9,31.8) scale(0.92,1)" font-size="9.1" text-anchor="end">100</text>
<line x1="58.5" y1="256.5" x2="58.5" y2="258.5" stroke="#444" stroke-width="0.9"/>
<text x="58.5" y="265.0" font-size="9.1" text-anchor="middle">1</text>
<line x1="106.5" y1="256.5" x2="106.5" y2="258.5" stroke="#444" stroke-width="0.9"/>
<text x="106.5" y="265.0" font-size="9.1" text-anchor="middle">2</text>
<line x1="154.5" y1="256.5" x2="154.5" y2="258.5" stroke="#444" stroke-width="0.9"/>
<text x="154.5" y="265.0" font-size="9.1" text-anchor="middle">3</text>
<line x1="202.5" y1="256.5" x2="202.5" y2="258.5" stroke="#444" stroke-width="0.9"/>
<text x="202.5" y="265.0" font-size="9.1" text-anchor="middle">4</text>
<text x="129.8" y="280.5" font-size="10" text-anchor="middle" textLength="52.4" lengthAdjust="spacingAndGlyphs">PAS Rating</text>
<line x1="251.0" y1="256.5" x2="455.0" y2="256.5" stroke="#262626" stroke-width="1"/>
<line x1="248.5" y1="245.5" x2="251.5" y2="245.5" stroke="#444" stroke-width="0.9"/>
<text transform="translate(247.9,248.8) scale(0.92,1)" font-size="9.1" text-anchor="end">0</text>
<line x1="248.5" y1="191.5" x2="251.5" y2="191.5" stroke="#444" stroke-width="0.9"/>
<text transform="translate(247.9,194.7) scale(0.92,1)" font-size="9.1" text-anchor="end">25</text>
<line x1="248.5" y1="137.5" x2="251.5" y2="137.5" stroke="#444" stroke-width="0.9"/>
<text transform="translate(247.9,140.6) scale(0.92,1)" font-size="9.1" text-anchor="end">50</text>
<line x1="248.5" y1="83.5" x2="251.5" y2="83.5" stroke="#444" stroke-width="0.9"/>
<text transform="translate(247.9,86.5) scale(0.92,1)" font-size="9.1" text-anchor="end">75</text>
<line x1="248.5" y1="29.0" x2="251.5" y2="29.0" stroke="#444" stroke-width="0.9"/>
<text transform="translate(247.9,31.8) scale(0.92,1)" font-size="9.1" text-anchor="end">100</text>
<line x1="281.0" y1="256.5" x2="281.0" y2="258.5" stroke="#444" stroke-width="0.9"/>
<text x="281.0" y="265.0" font-size="9.1" text-anchor="middle">1</text>
<line x1="328.8" y1="256.5" x2="328.8" y2="258.5" stroke="#444" stroke-width="0.9"/>
<text x="328.8" y="265.0" font-size="9.1" text-anchor="middle">2</text>
<line x1="376.7" y1="256.5" x2="376.7" y2="258.5" stroke="#444" stroke-width="0.9"/>
<text x="376.7" y="265.0" font-size="9.1" text-anchor="middle">3</text>
<line x1="424.5" y1="256.5" x2="424.5" y2="258.5" stroke="#444" stroke-width="0.9"/>
<text x="424.5" y="265.0" font-size="9.1" text-anchor="middle">4</text>
<text x="353.4" y="280.5" font-size="10" text-anchor="middle" textLength="52.4" lengthAdjust="spacingAndGlyphs">PAS Rating</text>
<line x1="474.0" y1="256.5" x2="677.0" y2="256.5" stroke="#262626" stroke-width="1"/>
<line x1="471.5" y1="245.5" x2="474.5" y2="245.5" stroke="#444" stroke-width="0.9"/>
<text transform="translate(470.9,248.8) scale(0.92,1)" font-size="9.1" text-anchor="end">0</text>
<line x1="471.5" y1="191.5" x2="474.5" y2="191.5" stroke="#444" stroke-width="0.9"/>
<text transform="translate(470.9,194.7) scale(0.92,1)" font-size="9.1" text-anchor="end">25</text>
<line x1="471.5" y1="137.5" x2="474.5" y2="137.5" stroke="#444" stroke-width="0.9"/>
<text transform="translate(470.9,140.6) scale(0.92,1)" font-size="9.1" text-anchor="end">50</text>
<line x1="471.5" y1="83.5" x2="474.5" y2="83.5" stroke="#444" stroke-width="0.9"/>
<text transform="translate(470.9,86.5) scale(0.92,1)" font-size="9.1" text-anchor="end">75</text>
<line x1="471.5" y1="29.0" x2="474.5" y2="29.0" stroke="#444" stroke-width="0.9"/>
<text transform="translate(470.9,31.8) scale(0.92,1)" font-size="9.1" text-anchor="end">100</text>
<line x1="503.5" y1="256.5" x2="503.5" y2="258.5" stroke="#444" stroke-width="0.9"/>
<text x="503.5" y="265.0" font-size="9.1" text-anchor="middle">1</text>
<line x1="551.4" y1="256.5" x2="551.4" y2="258.5" stroke="#444" stroke-width="0.9"/>
<text x="551.4" y="265.0" font-size="9.1" text-anchor="middle">2</text>
<line x1="599.4" y1="256.5" x2="599.4" y2="258.5" stroke="#444" stroke-width="0.9"/>
<text x="599.4" y="265.0" font-size="9.1" text-anchor="middle">3</text>
<line x1="647.3" y1="256.5" x2="647.3" y2="258.5" stroke="#444" stroke-width="0.9"/>
<text x="647.3" y="265.0" font-size="9.1" text-anchor="middle">4</text>
<text x="574.8" y="280.5" font-size="10" text-anchor="middle" textLength="52.4" lengthAdjust="spacingAndGlyphs">PAS Rating</text>
<text transform="translate(15.1,14.6) scale(0.93,1)" font-size="17.5" style="font-family:'Liberation Serif',serif;stroke-width:0.2px">A</text>
<text transform="translate(239.6,14.6) scale(0.93,1)" font-size="17.5" style="font-family:'Liberation Serif',serif;stroke-width:0.2px">B</text>
<text transform="translate(461.6,14.6) scale(0.93,1)" font-size="17.5" style="font-family:'Liberation Serif',serif;stroke-width:0.2px">C</text>
<text transform="translate(7.9,136.6) rotate(-90)" font-size="10.2" text-anchor="middle" textLength="120.2" lengthAdjust="spacingAndGlyphs">Proportion of Trials (%)</text>
<circle cx="93.4" cy="30" r="2.9" fill="#d03a5a"/>
<circle cx="93.4" cy="43.9" r="2.9" fill="#2a5a8a"/>
<text x="110.6" y="33.4" font-size="9.4" textLength="56.2" lengthAdjust="spacingAndGlyphs">Unattended</text>
<text x="110.6" y="46.7" font-size="9.4" textLength="43.8" lengthAdjust="spacingAndGlyphs">Attended</text>
</svg></body></html>
